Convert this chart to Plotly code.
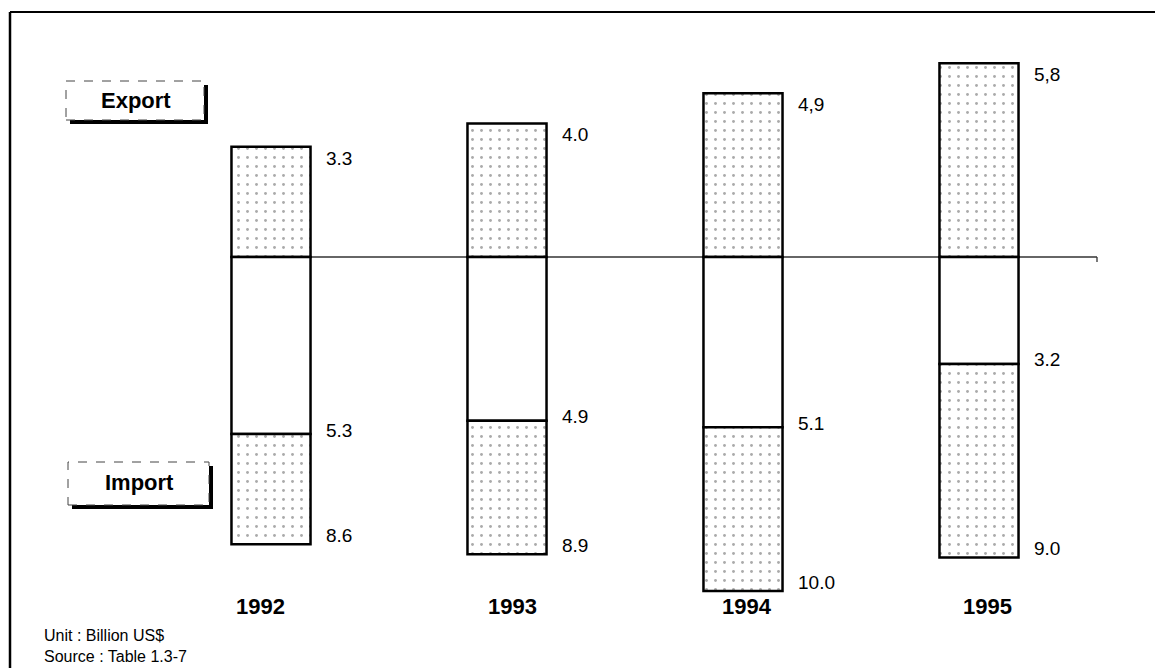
import plotly.graph_objects as go

# ---------------- data ----------------
years = ["1992", "1993", "1994", "1995"]
export_vals = [3.3, 4.0, 4.9, 5.8]          # billion US$
import_vals = [8.6, 8.9, 10.0, 9.0]         # billion US$
balance_vals = [5.3, 4.9, 5.1, 3.2]         # trade deficit, billion US$
export_text = ["3.3", "4.0", "4,9", "5,8"]
import_text = ["8.6", "8.9", "10.0", "9.0"]
balance_text = ["5.3", "4.9", "5.1", "3.2"]

# ---------------- layout geometry (pixels) ----------------
W, H = 1155, 668
BASE_PX = 257          # pixel row of the zero line
PX_PER_UNIT = 33.4     # pixels per billion US$
CENTER0, STEP = 271, 236
BAR_W = 0.335
FONT = "Liberation Sans, Arial, Helvetica, sans-serif"

y_top = BASE_PX / PX_PER_UNIT
y_bot = -(H - BASE_PX) / PX_PER_UNIT
x_lo = -CENTER0 / STEP
x_hi = (W - CENTER0) / STEP


def px(x):
    return x / W


def py(y):
    return 1 - y / H


stipple = dict(shape=".", fgcolor="#555555", bgcolor="white", size=9, solidity=0.08)
outline = dict(color="black", width=2.5)

fig = go.Figure()

# Export bars (stippled, above the zero line)
fig.add_trace(go.Bar(
    x=years, y=export_vals, base=[0] * len(years), width=BAR_W,
    marker=dict(color="white", pattern=stipple, line=outline),
    hoverinfo="skip", showlegend=False,
))

# Import bars: white part = deficit
fig.add_trace(go.Bar(
    x=years, y=[-b for b in balance_vals], base=[0] * len(years), width=BAR_W,
    marker=dict(color="white", line=outline),
    hoverinfo="skip", showlegend=False,
))

# Import bars: stippled part = remainder of imports
fig.add_trace(go.Bar(
    x=years, y=[-(i - b) for i, b in zip(import_vals, balance_vals)],
    base=[-b for b in balance_vals], width=BAR_W,
    marker=dict(color="white", pattern=stipple, line=outline),
    hoverinfo="skip", showlegend=False,
))

annotations = []
label_dx = 40 + 13
lab_font = dict(family=FONT, size=19, color="black")
for i, (ev, et) in enumerate(zip(export_vals, export_text)):
    annotations.append(dict(x=i, y=ev, xref="x", yref="y", text=et, showarrow=False,
                            xanchor="left", yanchor="top", xshift=label_dx, yshift=1,
                            font=lab_font))
for i, (bv, bt) in enumerate(zip(balance_vals, balance_text)):
    annotations.append(dict(x=i, y=-bv, xref="x", yref="y", text=bt, showarrow=False,
                            xanchor="left", yanchor="middle", xshift=label_dx, yshift=4,
                            font=lab_font))
for i, (iv, it) in enumerate(zip(import_vals, import_text)):
    annotations.append(dict(x=i, y=-iv, xref="x", yref="y", text=it, showarrow=False,
                            xanchor="left", yanchor="middle", xshift=label_dx, yshift=9,
                            font=lab_font))

year_dx = [-11, 5, 4, 8]
for i, (yr, dx) in enumerate(zip(years, year_dx)):
    annotations.append(dict(x=i, y=py(606), xref="x", yref="paper", text="<b>%s</b>" % yr,
                            showarrow=False, xanchor="center", yanchor="middle", xshift=dx,
                            font=dict(family=FONT, size=22, color="black")))

# Legend-like boxes
annotations.append(dict(x=px(136), y=py(101), xref="paper", yref="paper", text="<b>Export</b>",
                        showarrow=False, xanchor="center", yanchor="middle",
                        font=dict(family=FONT, size=22, color="black")))
annotations.append(dict(x=px(139), y=py(482), xref="paper", yref="paper", text="<b>Import</b>",
                        showarrow=False, xanchor="center", yanchor="middle",
                        font=dict(family=FONT, size=22, color="black")))

# Footnotes
annotations.append(dict(x=px(42), y=py(635), xref="paper", yref="paper", text="Unit : Billion US$",
                        showarrow=False, xanchor="left", yanchor="middle",
                        font=dict(family=FONT, size=16, color="black")))
annotations.append(dict(x=px(42), y=py(656), xref="paper", yref="paper", text="Source : Table 1.3-7",
                        showarrow=False, xanchor="left", yanchor="middle",
                        font=dict(family=FONT, size=16, color="black")))

shapes = [
    # outer frame (top and left edges)
    dict(type="line", xref="paper", yref="paper", x0=px(10), x1=1, y0=py(12), y1=py(12),
         line=dict(color="black", width=2), layer="above"),
    dict(type="line", xref="paper", yref="paper", x0=px(10), x1=px(10), y0=py(12), y1=0,
         line=dict(color="black", width=2.5), layer="above"),
    # zero line
    dict(type="line", xref="paper", yref="y", x0=px(300), x1=px(1097), y0=0, y1=0,
         line=dict(color="#333333", width=1.3), layer="below"),
    dict(type="line", xref="paper", yref="paper", x0=px(1097), x1=px(1097), y0=py(257), y1=py(262),
         line=dict(color="#333333", width=1.3), layer="below"),
    # Export box with shadow
    dict(type="rect", xref="paper", yref="paper", x0=px(70), x1=px(208), y0=py(124), y1=py(85),
         fillcolor="black", line=dict(width=0), layer="above"),
    dict(type="rect", xref="paper", yref="paper", x0=px(66), x1=px(204), y0=py(120), y1=py(81),
         fillcolor="white", line=dict(color="#444444", width=1, dash="dash"), layer="above"),
    # Import box with shadow
    dict(type="rect", xref="paper", yref="paper", x0=px(72), x1=px(213), y0=py(509), y1=py(466),
         fillcolor="black", line=dict(width=0), layer="above"),
    dict(type="rect", xref="paper", yref="paper", x0=px(68), x1=px(209), y0=py(505), y1=py(462),
         fillcolor="white", line=dict(color="#444444", width=1, dash="dash"), layer="above"),
]

fig.update_layout(
    width=W, height=H,
    margin=dict(l=0, r=0, t=0, b=0, pad=0),
    paper_bgcolor="white", plot_bgcolor="white",
    barmode="overlay",
    xaxis=dict(type="category", range=[x_lo, x_hi], visible=False, fixedrange=True),
    yaxis=dict(range=[y_bot, y_top], visible=False, fixedrange=True),
    annotations=annotations,
    shapes=shapes,
)

fig.write_html("out.html", config={"displayModeBar": False},
               post_script="document.body.style.margin='0';document.body.style.overflow='hidden';")
